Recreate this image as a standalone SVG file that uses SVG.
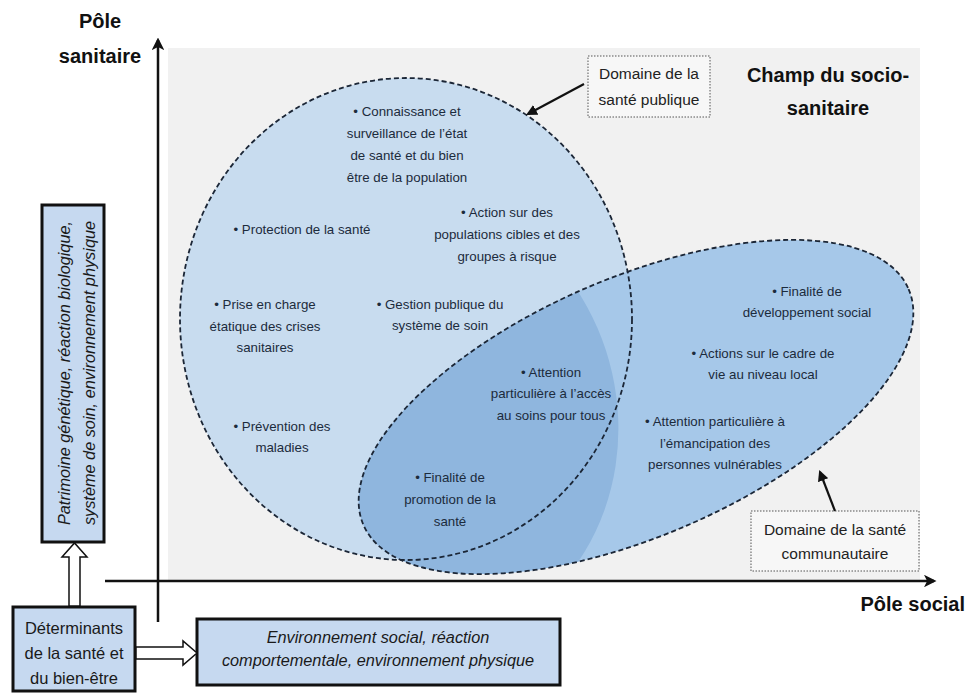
<svg xmlns="http://www.w3.org/2000/svg" width="967" height="693" viewBox="0 0 967 693">
  <style>
    .bold { font-family: "Liberation Sans", Arial, sans-serif; font-weight: bold; fill: #111; }
    .item { font-family: "Liberation Sans", Arial, sans-serif; font-size: 13.3px; fill: #1c2b3c; text-anchor: middle; }
    .lbl { font-family: "Liberation Sans", Arial, sans-serif; font-size: 15.5px; fill: #222; text-anchor: middle; }
    .det { font-family: "Liberation Sans", Arial, sans-serif; font-size: 16.5px; fill: #1a1a1a; text-anchor: middle; }
    .ital { font-family: "Liberation Sans", Arial, sans-serif; font-size: 16.3px; font-style: italic; fill: #1a1a1a; text-anchor: middle; }
    .zone { stroke: #1b2636; stroke-width: 1.8; stroke-dasharray: 5 3; }
    .dotbox { fill: #f7f7f7; stroke: #555; stroke-width: 1; stroke-dasharray: 1.5 1.5; }
    .detbox { fill: #c6d9f0; stroke: #111; stroke-width: 3; }
    .axis { stroke: #111; stroke-width: 2.5; fill: none; }
    .ptr { stroke: #111; stroke-width: 2.2; fill: none; }
    .hollow { fill: #fff; stroke: #111; stroke-width: 1.5; stroke-linejoin: miter; }
  </style>
  <defs>
    <marker id="head" viewBox="0 0 10 10" refX="8" refY="5" markerWidth="5" markerHeight="5" orient="auto" markerUnits="strokeWidth">
      <path d="M0,0 L10,5 L0,10 L2.5,5 Z" fill="#111"/>
    </marker>
    <marker id="tip" viewBox="0 0 10 10" refX="8" refY="5" markerWidth="5" markerHeight="5" orient="auto" markerUnits="strokeWidth">
      <path d="M0,0 L10,5 L0,10 Z" fill="#111"/>
    </marker>
    <clipPath id="publicClip">
      <ellipse cx="406" cy="319" rx="226" ry="241"/>
    </clipPath>
  </defs>

  <rect width="967" height="693" fill="#ffffff"/>
  <!-- socio-sanitary field -->
  <rect id="champ" x="168" y="48" width="752" height="532" fill="#f1f1f1"/>

  <!-- public health domain -->
  <g id="sante-publique">
    <ellipse cx="406" cy="319" rx="226" ry="241" fill="#c8dcef"/>
  </g>

  <!-- community health domain, darker where it overlaps public health -->
  <g id="sante-communautaire">
    <ellipse cx="636" cy="407" rx="297" ry="129" transform="rotate(-23.4 636 407)" fill="#a6c8e9"/>
    <ellipse cx="636" cy="407" rx="297" ry="129" transform="rotate(-23.4 636 407)" fill="#8fb6de" clip-path="url(#publicClip)"/>
  </g>

  <g id="zone-outlines" fill="none">
    <ellipse class="zone" cx="406" cy="319" rx="226" ry="241"/>
    <ellipse class="zone" cx="636" cy="407" rx="297" ry="129" transform="rotate(-23.4 636 407)"/>
  </g>

  <g id="titre-champ">
    <text class="bold" font-size="20" text-anchor="middle" x="828" y="82">Champ du socio-</text>
    <text class="bold" font-size="20" text-anchor="middle" x="828" y="115">sanitaire</text>
  </g>

  <g id="items">
    <text class="item" x="407" y="116">• Connaissance et</text>
    <text class="item" x="407" y="138">surveillance de l’état</text>
    <text class="item" x="407" y="160">de santé et du bien</text>
    <text class="item" x="407" y="182">être de la population</text>

    <text class="item" x="302" y="234">• Protection de la santé</text>

    <text class="item" x="507" y="217">• Action sur des</text>
    <text class="item" x="507" y="239">populations cibles et des</text>
    <text class="item" x="507" y="261">groupes à risque</text>

    <text class="item" x="265" y="309">• Prise en charge</text>
    <text class="item" x="265" y="331">étatique des crises</text>
    <text class="item" x="265" y="352">sanitaires</text>

    <text class="item" x="440" y="309">• Gestion publique du</text>
    <text class="item" x="440" y="330">système de soin</text>

    <text class="item" x="282" y="431">• Prévention des</text>
    <text class="item" x="282" y="452">maladies</text>

    <text class="item" x="551" y="377">• Attention</text>
    <text class="item" x="551" y="398">particulière à l’accès</text>
    <text class="item" x="551" y="420">au soins pour tous</text>

    <text class="item" x="450" y="482">• Finalité de</text>
    <text class="item" x="450" y="504">promotion de la</text>
    <text class="item" x="450" y="526">santé</text>

    <text class="item" x="807" y="296">• Finalité de</text>
    <text class="item" x="807" y="317">développement social</text>

    <text class="item" x="763" y="358">• Actions sur le cadre de</text>
    <text class="item" x="763" y="379">vie au niveau local</text>

    <text class="item" x="715" y="426">• Attention particulière à</text>
    <text class="item" x="715" y="448">l’émancipation des</text>
    <text class="item" x="715" y="469">personnes vulnérables</text>
  </g>

  <g id="label-publique">
    <rect class="dotbox" x="588" y="56" width="122" height="61"/>
    <text class="lbl" x="649" y="79">Domaine de la</text>
    <text class="lbl" x="649" y="105">santé publique</text>
  </g>

  <g id="label-communautaire">
    <rect class="dotbox" x="751" y="511" width="168" height="60"/>
    <text class="lbl" x="835" y="535">Domaine de la santé</text>
    <text class="lbl" x="835" y="559">communautaire</text>
  </g>

  <g id="pole-sanitaire">
    <text class="bold" font-size="20" text-anchor="middle" x="100" y="28">Pôle</text>
    <text class="bold" font-size="20" text-anchor="middle" x="100" y="63">sanitaire</text>
  </g>
  <g id="pole-social">
    <text class="bold" font-size="20" text-anchor="end" x="965" y="611">Pôle social</text>
  </g>

  <g id="determinants-sanitaires">
    <rect class="detbox" x="42" y="205" width="62" height="337"/>
    <g transform="translate(0 373) rotate(-90)">
      <text class="ital" x="0" y="70">Patrimoine génétique, réaction biologique,</text>
      <text class="ital" x="0" y="95">système de soin, environnement physique</text>
    </g>
  </g>

  <g id="determinants">
    <rect class="detbox" x="13" y="607" width="122" height="84"/>
    <text class="det" x="74" y="634">Déterminants</text>
    <text class="det" x="74" y="659">de la santé et</text>
    <text class="det" x="74" y="684">du bien-être</text>
  </g>

  <g id="determinants-sociaux">
    <rect class="detbox" x="197" y="619" width="363" height="66"/>
    <text class="ital" x="378" y="643">Environnement social, réaction</text>
    <text class="ital" x="378" y="666">comportementale, environnement physique</text>
  </g>

  <g id="connectors">
    <line class="axis" x1="158" y1="622" x2="158" y2="40" marker-end="url(#head)"/>
    <line class="axis" x1="105" y1="581" x2="934" y2="581" marker-end="url(#head)"/>
    <line class="ptr" x1="584" y1="84" x2="528" y2="114" marker-end="url(#tip)"/>
    <line class="ptr" x1="835" y1="511" x2="820" y2="472" marker-end="url(#tip)"/>
    <polygon class="hollow" points="69,606 69,557 62,557 74.5,543 87,557 80,557 80,606"/>
    <polygon class="hollow" points="136,647 183,647 183,641 197,653 183,665 183,659 136,659"/>
  </g>
</svg>
